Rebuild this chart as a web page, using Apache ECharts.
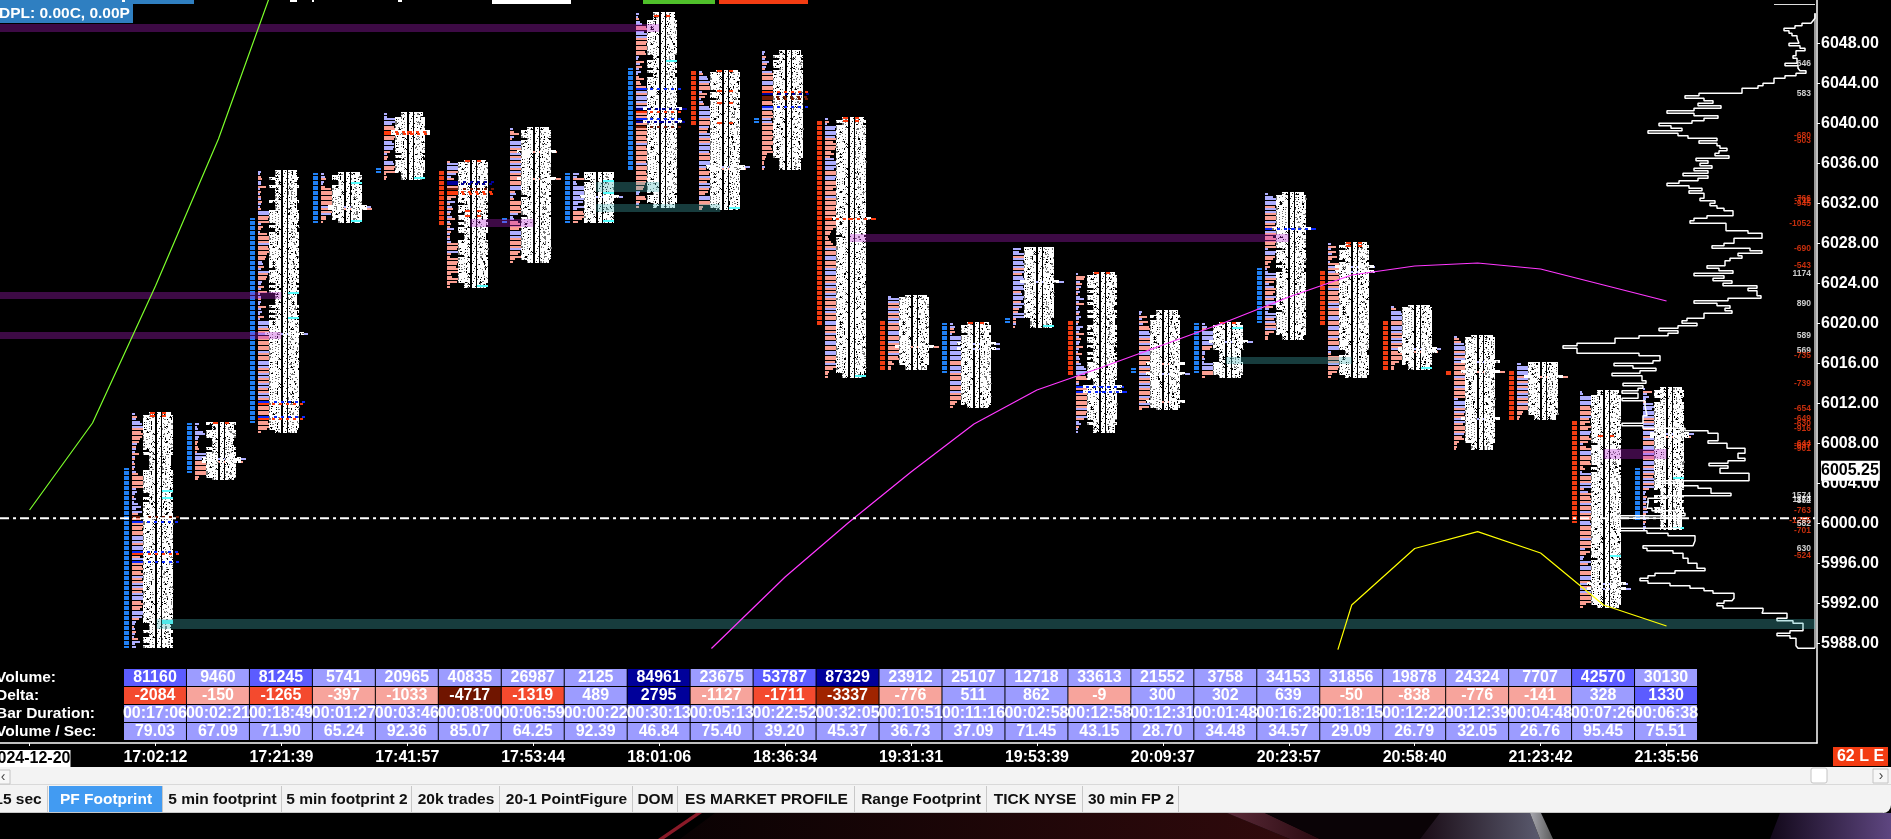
<!DOCTYPE html>
<html><head><meta charset="utf-8">
<style>html,body{margin:0;padding:0;background:#000;overflow:hidden}#c{width:1891px;height:839px}</style>
<script src="https://cdn.jsdelivr.net/npm/echarts@6/dist/echarts.min.js"></script>
</head><body><div id="c"></div>
<script>
const timeTicks = ['2024-12-20','17:02:12','17:21:39','17:41:57','17:53:44','18:01:06','18:36:34','19:31:31','19:53:39','20:09:37','20:23:57','20:58:40','21:23:42','21:35:56'];
const priceTicks = [5988,5992,5996,6000,6004,6008,6012,6016,6020,6024,6028,6032,6036,6040,6044,6048];
const lastPrice = 6005.25;
const rowNames = ['Volume:','Delta:','Bar Duration:','Volume / Sec:'];
const volumes = [81160,9460,81245,5741,20965,40835,26987,2125,84961,23675,53787,87329,23912,25107,12718,33613,21552,3758,34153,31856,19878,24324,7707,42570,30130];
const deltas = [-2084,-150,-1265,-397,-1033,-4717,-1319,489,2795,-1127,-1711,-3337,-776,511,862,-9,300,302,639,-50,-838,-776,-141,328,1330];
const durations = ['00:17:06','00:02:21','00:18:49','00:01:27','00:03:46','00:08:00','00:06:59','00:00:22','00:30:13','00:05:13','00:22:52','00:32:05','00:10:51','00:11:16','00:02:58','00:12:58','00:12:31','00:01:48','00:16:28','00:18:15','00:12:22','00:12:39','00:04:48','00:07:26','00:06:38'];
const volPerSec = ['79.03','67.09','71.90','65.24','92.36','85.07','64.25','92.39','46.84','75.40','39.20','45.37','36.73','37.09','71.45','43.15','28.70','34.48','34.57','29.09','26.79','32.05','26.76','95.45','75.51'];

const colHigh = [6011,6010,6035.25,6035,6041,6036.25,6039.5,6035,6051,6045.25,6047.25,6040.5,6022.75,6020,6027.5,6025,6021.25,6020,6033,6028,6021.75,6018.75,6016,6013.25,6013.5];
// price-range of the reversal blocks left of each bar: [high, low, +1 blue / -1 red]
const brickHigh = [6005.5,6010,6030.5,6035,6035.5,6035.25,6030.5,6035,6045.5,6045.25,6040.5,6040.25,6020.25,6020,6020.5,6020.25,6015.5,6020,6025.5,6025.25,6020.25,6015.25,6015.25,6010.25,6005.5];
const brickLow = [5987.5,6005,6010,6030,6035,6029.75,6030,6030,6035.25,6039.75,6040,6019.75,6015.25,6015,6020,6014.75,6015,6015,6020,6019.75,6015.25,6014.75,6010.25,6000,6000.25];
const brickDir = [1,1,1,1,1,-1,1,1,1,-1,1,-1,-1,1,1,-1,1,1,1,-1,-1,-1,-1,-1,1];

// level volume per bar, top to bottom (sign = delta side)
const lv0 = [3,-5,4,8,10,11,-11,-9,-11,-10,-8,-7,5,-4,4,3,-7,3,-3,2,-3,3,-2,4,-6,-11,-12,-13,-12,-11,4,5,3,-2,4,2,6,9,4,10,-6,-8,-9,14,-11,-12,-10,-13,-12,11,12,13,-12,11,13,12,-11,-8,12,14,-12,-10,-13,-9,-11,12,-10,-12,13,11,-12,-10,12,13,11,-9,-12,-10,-8,13,11,10,-7,4,3,-2,3,-4,3,2,-6,8,3,4];
const lv1 = [4,2,3,8,10,4,3,-3,-2,-3,-4,-2,14,18,51,-48,-15,-14,-16,-18,-15,-4,-3];
const lv2 = [3,2,-3,-4,3,3,-8,2,-3,2,-3,3,-4,3,2,-3,12,11,-12,-10,-11,3,-5,-3,2,-9,-11,-12,-11,12,-10,-12,-11,-9,-8,-7,4,5,-6,3,12,-10,-9,-8,4,3,-6,3,-9,2,3,-3,3,2,-8,3,4,2,-6,2,11,12,10,-12,-13,50,-14,-13,-15,-12,-13,-11,12,-14,-11,-13,11,12,13,-12,-11,11,13,-14,-12,11,12,-10,-11,13,12,-13,-11,14,-12,-13,-14,-12,-11,13,-10,-12,-13,-9,-3];
const lv3 = [3,4,-5,3,2,-4,-10,-12,-13,-11,-14,-12,-13,50,-51,-12,10,-5,-5,-2];
const lv4 = [3,3,11,11,8,-10,-12,-45,-40,-12,-10,8,10,10,9,-6,3,-4,-3,9,10,-11,-10,-12,-2,-3,-2];
const lv5 = [-3,11,12,11,-13,9,4,-7,14,13,-12,-11,-12,-12,-9,-4,8,-3,5,-6,4,-3,5,-8,3,-4,-3,7,-4,3,-3,3,4,-11,-12,-10,11,-4,-3,-12,-11,-10,-9,-11,-12,-4,-5,-11,-10,-3,-3];
const lv6 = [3,-4,-9,4,-2,13,12,13,-12,-47,12,-13,11,-12,12,14,-13,11,-12,-14,-51,-13,-11,11,12,-5,6,3,-4,-11,-12,-10,-13,-11,8,3,4,-8,-10,-11,-9,12,11,13,-12,-13,-11,-12,12,-10,-8,-11,-5,-3];
const lv7 = [6,4,-14,3,4,13,12,11,13,50,12,10,5,11,4,-10,-12,-14,-9,-5];
const lv8 = [3,2,-3,4,6,-10,-11,8,12,11,-12,-11,-10,-12,-11,-9,-10,3,2,-8,4,-6,3,5,2,-3,-8,-4,-5,-10,12,11,-12,14,13,12,-13,11,51,-14,-12,-15,12,49,-11,-10,-12,-11,-13,-10,-12,-11,12,-10,-11,-13,-12,-11,-12,-10,12,-13,-11,-10,-12,-11,-11,-10,-9,-8,-7,4,3,-9,-10,-4,3,-3];
const lv9 = [3,-4,8,9,11,-10,-12,-11,3,-8,-6,2,4,-5,10,12,13,11,14,-12,-11,-13,10,-9,-8,11,13,-12,-11,12,13,11,10,-13,-11,-12,12,14,51,-47,-12,-10,11,-13,-8,12,11,-10,-9,-6,12,13,-11,-14,-4,-3];
const lv10 = [3,2,-4,3,7,-5,4,-3,10,-12,-13,-12,11,12,-14,-12,-13,-12,-11,-13,-10,-12,-11,12,-10,-12,-11,9,10,-12,-13,-11,-10,-12,-11,-10,-12,-11,-9,-10,-12,-5,-4,-3,-2,-2,3,-2];
const lv11 = [3,-4,2,11,10,12,12,10,-13,-8,-11,-12,-10,-6,-9,-5,9,12,11,12,9,-12,-11,12,10,-12,-13,-11,-8,-12,-14,11,-12,-13,-11,-13,-10,-12,-11,-10,-51,-12,-13,-11,-8,-6,-5,-3,-4,-6,-8,-12,12,-13,-11,12,11,-14,-12,-11,12,14,13,-13,-12,-11,13,11,-13,-12,11,13,-12,-14,-11,-12,14,13,-13,-12,-11,11,12,-13,-11,-12,13,-10,-12,14,13,-11,-12,12,13,-14,-11,-10,12,-13,-8,-4,-3,-3];
const lv12 = [3,11,12,-13,-12,11,13,-12,-11,13,12,-13,-12,-14,11,12,-12,-13,13,-11,-51,-13,-12,11,-10,-12,-4,-6,-3,-3];
const lv13 = [3,5,-4,-5,2,13,14,12,50,13,50,11,14,13,12,-12,-13,11,12,13,-12,-14,-13,12,11,-13,-14,12,-11,-13,-12,-7,-5,-3];
const lv14 = [8,6,12,-11,11,10,12,13,-12,11,-9,10,12,51,11,10,12,-8,9,12,10,-8,11,9,-6,-5,12,11,-3,-3,3,-2];
const lv15 = [2,-9,-8,4,-6,5,-3,4,-2,4,8,3,-8,3,2,4,-3,5,3,-3,2,7,4,3,-8,3,-5,4,3,-7,3,2,-6,3,4,-3,5,8,10,12,9,-10,-12,-3,3,48,-12,51,-13,-11,-14,-12,-13,-11,12,-14,-10,11,-8,3,5,-3,2,2];
const lv16 = [3,2,-8,3,-9,4,-10,-11,10,12,11,-12,-13,11,-12,-11,12,13,-13,-12,-11,-43,12,-13,-11,51,12,-13,-11,12,13,-12,-11,-13,12,-10,-42,12,-10,-3];
const lv17 = [3,5,-4,11,14,13,12,51,11,-10,-8,3,3,-2,3,2,11,12,12,-13,-14,-3];
const lv18 = [3,8,11,11,12,-10,12,11,-12,-13,-11,12,-10,-12,51,12,-11,-8,-12,-11,-10,-13,3,11,10,-10,-8,-6,-3,-5,2,3,11,12,-12,-9,4,9,-12,-10,-8,12,-9,10,11,-8,4,3,12,11,-9,10,-11,-12,12,-9,-4,-3,-3];
const lv19 = [3,-8,3,-8,4,-9,-4,2,-13,47,-13,47,-12,-14,-11,-13,-12,-11,12,-13,-10,-12,-14,-11,13,11,-12,-13,-14,12,11,-13,-12,11,13,-14,-12,11,-10,-12,-13,12,11,3,-3,-12,-13,-11,12,-14,-10,-9,-4,-3];
const lv20 = [3,-5,10,12,13,11,-12,-13,11,12,14,-11,-13,11,12,-14,-13,50,-47,-12,-11,-13,-8,-4,-3,-3];
const lv21 = [3,-5,-7,10,11,12,-12,11,-13,12,46,-13,-12,-11,-51,-14,12,-13,-11,-12,13,-14,-12,-11,-13,4,11,12,13,-11,12,-10,-11,46,12,-9,-13,-11,-12,10,-8,-10,-5,-3,-3,-2];
const lv22 = [4,12,14,13,11,-51,12,-13,11,-14,13,-12,14,11,-13,-12,11,-13,-12,-6,-5,-3,-2];
const lv23 = [2,3,12,13,14,12,-10,-12,-13,-11,13,-9,-10,-5,-11,-8,12,10,-9,-11,-8,3,-6,-12,14,13,-11,-12,-10,-13,-3,-5,2,12,-13,-12,-11,13,12,-4,8,-12,-10,-13,-12,11,-14,-11,12,-13,-12,-11,10,13,-12,-14,-13,-12,-11,12,-13,-11,-12,5,-10,-6,4,3,12,-8,13,14,-11,-12,12,13,-10,48,-12,51,12,-13,-11,-12,-13,-6,-3];
const lv24 = [2,-9,4,6,3,-3,10,12,9,13,14,11,-13,-12,14,13,-14,12,51,-48,12,-13,-11,14,13,-12,14,-13,-11,15,13,-12,14,16,-11,-10,12,13,-14,11,-6,3,2,-4,3,6,-3,3,-4,5,-3,2,3,-3,2,3,2];
const barLevels = [lv0,lv1,lv2,lv3,lv4,lv5,lv6,lv7,lv8,lv9,lv10,lv11,lv12,lv13,lv14,lv15,lv16,lv17,lv18,lv19,lv20,lv21,lv22,lv23,lv24];

// [bar, level, tone]: rows of the footprint with a strong colour
const strongRows = [[0,41,'M'],[0,43,'B'],[0,55,'B'],[0,56,'R'],[0,59,'B'],[2,92,'B'],[2,93,'R'],[2,98,'B'],[2,99,'R'],[4,7,'R'],[4,8,'R'],[5,8,'N'],[5,9,'N'],[5,11,'M'],[5,12,'R'],[5,13,'R'],[8,30,'B'],[8,38,'N'],[8,39,'R'],[8,42,'B'],[8,43,'N'],[8,45,'M'],[10,16,'R'],[10,17,'N'],[10,18,'M'],[10,19,'M'],[10,22,'B'],[11,40,'R'],[15,45,'B'],[15,47,'B'],[18,14,'B']];
const cyanRows = [[0,31],[0,34],[0,83],[0,84],[2,49],[2,59],[3,4],[3,19],[4,26],[5,50],[7,3],[7,8],[7,19],[8,19],[8,79],[9,55],[11,103],[14,31],[17,2],[20,25],[23,66],[24,36],[24,56]];
const redRows = [[0,0],[0,1],[1,0],[5,0],[8,1],[9,0],[9,8],[9,13],[9,21],[11,0],[11,1],[13,0],[15,0],[17,0],[19,0],[19,1],[23,18],[5,20],[5,22]];

// value profile on the right: [price, volume] from top to bottom
const profile = [[6051,0],[6050.5,2],[6050.25,4],[6050,13],[6049.75,20],[6049.5,31],[6049.25,26],[6049,23],[6048.75,18],[6048.5,16],[6048,26],[6047.75,15],[6047.5,10],[6047.25,19],[6046.75,22],[6046.5,18],[6046,30],[6045.75,17],[6045.5,15],[6045.25,9],[6045,19],[6044.75,30],[6044.5,41],[6044,52],[6043.75,57],[6043.5,73],[6043,116],[6042.75,130],[6042.5,111],[6042.25,102],[6042,117],[6041.75,94],[6041.5,121],[6041.25,148],[6041,121],[6040.75,97],[6040.5,111],[6040.25,123],[6040,156],[6039.75,144],[6039.5,133],[6039.25,167],[6039,137],[6038.75,127],[6038.5,98],[6038.25,116],[6038,98],[6037.75,95],[6037.5,88],[6037.25,96],[6037,100],[6036.75,86],[6036.5,119],[6036.25,107],[6036,115],[6035.75,103],[6035.5,121],[6035.25,107],[6035,132],[6034.75,107],[6034.5,117],[6034.25,136],[6034,148],[6033.75,126],[6033.5,113],[6033.25,126],[6033,111],[6032.5,115],[6032.25,100],[6032,105],[6031.75,98],[6031.5,91],[6031.25,82],[6030.75,108],[6030.5,121],[6030.25,125],[6030,89],[6029.25,67],[6029,53],[6028.5,81],[6028,91],[6027.75,103],[6027.5,65],[6027.25,53],[6027,77],[6026.75,73],[6026.5,85],[6026.25,90],[6025.75,108],[6025.5,96],[6025.25,82],[6025,121],[6024.75,91],[6024.5,102],[6024.25,83],[6024,92],[6023.75,58],[6023.5,67],[6023.25,58],[6022.75,54],[6022.5,87],[6022.25,121],[6022,98],[6021.75,85],[6021.5,90],[6021.25,83],[6021,111],[6020.5,128],[6020.25,133],[6020,118],[6019.75,137],[6019.5,156],[6019.25,137],[6019,147],[6018.75,176],[6018.5,200],[6018,238],[6017.75,252],[6017.5,238],[6017,176],[6016.75,155],[6016.25,162],[6016,201],[6015.75,182],[6015.5,159],[6015.25,175],[6015,203],[6014.75,173],[6014.25,169],[6014,192],[6013.75,172],[6013.5,177],[6013.25,193],[6013,177],[6012.5,193],[6012.25,170],[6011.75,168],[6010.75,172],[6010,193],[6009.75,172],[6009.5,130],[6009.25,107],[6009,97],[6008.25,107],[6008,88],[6007.5,70],[6007,77],[6006.5,70],[6006.25,87],[6006,106],[6005.75,87],[6005.5,95],[6005,66],[6004.25,158],[6004,135],[6003.75,117],[6003.5,104],[6003,84],[6002.75,148],[6002.5,167],[6002,168],[6001.5,163],[6001.25,135],[6001,130],[6000.75,197],[6000.5,135],[5999.5,197],[5999.25,168],[5999,147],[5998.75,120],[5998.25,122],[5997.75,172],[5997.5,168],[5997.25,142],[5997,132],[5996.5,127],[5996,118],[5995.5,110],[5995.25,140],[5995,160],[5994.75,167],[5994.5,175],[5994.25,167],[5994,145],[5993.75,125],[5993.5,111],[5993.25,102],[5993,81],[5992.5,83],[5992.25,91],[5992,98],[5991.75,92],[5991.5,52],[5991.25,53],[5991,28],[5990.5,38],[5990.25,22],[5990,12],[5989.25,25],[5989,38],[5988.75,25],[5988.5,19],[5987.75,17],[5987.5,0]];
const profileLabels = [[6046,'646',1],[6043,'583',1],[6038.75,'-680',0],[6038.25,'-503',0],[6032.5,'-766',0],[6032.25,'-711',0],[6032,'-945',0],[6030,'-1052',0],[6027.5,'-690',0],[6025.75,'-543',0],[6025,'1174',1],[6022,'890',1],[6018.75,'589',1],[6017.25,'569',1],[6016.75,'-735',0],[6014,'-739',0],[6011.5,'-654',0],[6010.5,'-649',0],[6010,'-630',0],[6009.5,'-916',0],[6008,'-644',0],[6007.75,'-637',0],[6007.5,'-901',0],[6002.75,'1574',1],[6002.4,'1174',1],[6002.25,'852',1],[6001.25,'-763',0],[6000.25,'-1255',0],[6000,'582',1],[5999.25,'-701',0],[5997.5,'630',1],[5996.75,'-524',0]];

// moving lines: [bar position, price]
const greenLine = [[-2,6001.33],[-1,6010.03],[0,6023.73],[1,6038.43],[2,6055.93]];
const magentaLine = [[8.83,5987.48],[10,5994.63],[11,6000.03],[12,6005.13],[13,6009.93],[14,6013.33],[15,6015.53],[16,6017.83],[17,6020.13],[18,6022.63],[19,6024.83],[20,6025.73],[21,6026.03],[22,6025.43],[23,6023.83],[24,6022.23]];
const yellowLine = [[18.78,5987.37],[19,5991.83],[20,5997.48],[21,5999.17],[22,5997.03],[23,5991.83],[24,5989.73]];
const roundLevel = 6000.5;

// [from bar, to bar, high, low]
const purpleZones = [[-2.47,8,6049.93,6049.13],[-2.47,2,6023.13,6022.43],[-2.47,2,6019.13,6018.43],[5,6,6030.43,6029.63],[11.03,18,6028.93,6028.13],[23,24,6007.43,6006.43]];
const tealZones = [[0.02,26.36,5990.43,5989.43],[7,8,6034.13,6033.13],[7,8.97,6031.93,6031.13],[17,19,6016.63,6015.93]];

const tabs = [['15 sec',-12,48],['PF Footprint',49,163],['5 min footprint',163,282],['5 min footprint 2',282,412],['20k trades',412,500],['20-1 PointFigure',500,633],['DOM',633,678],['ES MARKET PROFILE',678,855],['Range Footprint',855,987],['TICK NYSE',987,1083],['30 min FP 2',1083,1179]];

const FONT = '"Liberation Sans", Arial, sans-serif';
const X_MIN = -2.4695, X_MAX = 26.39;
const SALMON = '#fb9f92', LAV = '#aeaeff';
const TONES = {B:'#0a28ff',N:'#00009a',R:'#ff3a0c',M:'#701a05'};

const footRows = [];
barLevels.forEach((lv,c)=>lv.forEach((v,i)=>footRows.push([c,colHigh[c]-i*0.25,v,i])));
const brickRows = [];
brickHigh.forEach((h,c)=>{for(let p=h;p>brickLow[c]+0.01;p-=0.25)brickRows.push([c,p,brickDir[c]]);});
const toneMap = {}; strongRows.forEach(r=>toneMap[r[0]+'_'+r[1]]=r[2]);
const cyanMap = {}; cyanRows.forEach(r=>cyanMap[r[0]+'_'+r[1]]=1);
const redMap = {}; redRows.forEach(r=>redMap[r[0]+'_'+r[1]]=1);

function renderBar(params,api){
  const c=api.value(0),p=api.value(1),v=api.value(2),L=api.value(3);
  const pt=api.coord([c,p]);
  const s=pt[0]-api.size([1,0])[0]/2, y=Math.round(pt[1]);
  const tone=toneMap[c+'_'+L];
  return {type:'rect',shape:{x:Math.round(s+8),y:y,width:Math.abs(v),height:2},style:{fill:tone?TONES[tone]:(v<0?SALMON:LAV)}};
}
// cell extents of one price row, from its volume: [leftStart,leftEnd,centreStart,centreEnd,rightStart,rightEnd] after the bar's left edge
function cellExtent(a){
  const big=a>=30, small=a<4;
  return [big?15:(small?25:19),31,33,37,38,big?54:(small?47:49)];
}
function renderCells(params,api){
  const c=api.value(0),p=api.value(1),a=Math.abs(api.value(2));
  const pt=api.coord([c,p]);
  const s=Math.round(pt[0]-api.size([1,0])[0]/2), y=Math.round(pt[1]);
  const e=cellExtent(a), f={fill:'#ffffff'};
  return {type:'group',children:[
    {type:'rect',shape:{x:s+e[0],y:y-1,width:e[1]-e[0],height:3},style:f},
    {type:'rect',shape:{x:s+e[2],y:y-1,width:e[3]-e[2],height:3},style:f},
    {type:'rect',shape:{x:s+e[4],y:y-1,width:e[5]-e[4],height:3},style:f}
  ]};
}
// the dark flecks inside a cell are the gaps of the overlapping small figures
function renderFlecks(params,api){
  const c=api.value(0),p=api.value(1),v=api.value(2),L=api.value(3);
  const a=Math.abs(v);
  const pt=api.coord([c,p]);
  const s=Math.round(pt[0]-api.size([1,0])[0]/2), y=Math.round(pt[1]);
  const e=cellExtent(a), tone=toneMap[c+'_'+L], rd=redMap[c+'_'+L], cy=cyanMap[c+'_'+L];
  const kids=[];
  const cell=(x0,x1,seed,count)=>{
    const w=x1-x0;
    for(let k=0;k<count;k++){
      const h=seed*(k*2+3)+k*7;
      const x=x0+h%w;
      const dark=h%3!==0;
      kids.push({type:'rect',shape:{x:x,y:y+(h%2),width:1+(h%5===0?1:0),height:1+(h%4===0?1:0)},style:{fill:dark?'#000':'#777'}});
    }
  };
  cell(e[0],e[1],a*37+L*11+c*5,4);
  cell(e[4],e[5],a*53+L*17+c*3,4);
  const hit=(L*7+c)%4;
  kids.forEach(k=>{k.shape.x+=s;});
  kids.push({type:'rect',shape:{x:s+e[2]+hit,y:y,width:1,height:1},style:{fill:'#222'}});
  if(tone){
    for(let k=0;k<5;k++)kids.push({type:'rect',shape:{x:s+e[0]+3+k*7+(L%3),y:y,width:3,height:2},style:{fill:TONES[tone]}});
  }
  if(rd){
    kids.push({type:'rect',shape:{x:s+26,y:y-1,width:5,height:2},style:{fill:'#ff3a0c'}},{type:'rect',shape:{x:s+38,y:y-1,width:4,height:2},style:{fill:'#ff3a0c'}});
  }
  if(cy){
    kids.push({type:'rect',shape:{x:s+38,y:y-1,width:11,height:2},style:{fill:'#55ffff'}});
  }
  return {type:'group',children:kids};
}
function renderBrick(params,api){
  const pt=api.coord([api.value(0),api.value(1)]);
  const cw=api.size([1,0])[0];
  return {type:'rect',shape:{x:Math.round(pt[0]-cw/2),y:Math.round(pt[1]),width:5,height:2},style:{fill:api.value(2)>0?'#2080f5':'#f23c12'}};
}
function renderZone(fill){return function(params,api){
  const a=api.coord([api.value(0),api.value(2)]),b=api.coord([api.value(1),api.value(3)]);
  return {type:'rect',shape:{x:a[0],y:a[1],width:b[0]-a[0],height:b[1]-a[1]},style:{fill:fill}};
};}
function volColor(v){return v>=84000?'#00009a':(v>=42000?'#5c5cff':'#9c9cff');}
function deltaColor(d){
  if(d>=2000)return '#00009a'; if(d>=1000)return '#5c5cff'; if(d>=0)return '#9c9cff';
  if(d<=-4000)return '#701500'; if(d<=-3000)return '#a02400'; if(d<=-1200)return '#f44a2e'; return '#f7a49c';
}
const tableRows=[];
for(let r=0;r<4;r++)for(let c=0;c<volumes.length;c++)tableRows.push([c,r]);
function renderCell(params,api){
  const c=api.value(0),r=api.value(1);
  const pt=api.coord([c,r]);
  const cw=api.size([1,0])[0];
  const fill=r===0?volColor(volumes[c]):(r===1?deltaColor(deltas[c]):'#9c9cff');
  const txt=r===0?String(volumes[c]):(r===1?String(deltas[c]):(r===2?durations[c]:volPerSec[c]));
  return {type:'group',children:[
    {type:'rect',shape:{x:pt[0]-cw/2,y:pt[1]-9,width:cw-1,height:17},style:{fill:fill}},
    {type:'text',z2:5,style:{text:txt,x:pt[0]-0.5,y:pt[1]-0.5,fill:'#fff',align:'center',verticalAlign:'middle',font:'bold 16px '+FONT}}
  ]};
}
const profilePts=[];
profile.forEach((e,i)=>{
  const next=i<profile.length-1?profile[i+1][0]:e[0];
  profilePts.push([e[1],e[0]],[e[1],next]);
});

const gfx=[];
function R(x,y,w,h,fill,extra){gfx.push(Object.assign({type:'rect',shape:{x:x,y:y,width:w,height:h},style:{fill:fill},silent:true,z:50},extra||{}));}
function T(x,y,t,fill,font,align){gfx.push({type:'text',x:x,y:y,style:{text:t,fill:fill,font:font,align:align||'center',verticalAlign:'middle'},silent:true,z:52});}
// clipped toolbar at top
R(0,0,194,4,'#2f7fc1');R(492,0,79,4,'#ffffff');R(643,0,72,4,'#4fbf2a');R(719,0,89,4,'#f33c12');
R(122,0,3,2,'#fff');R(290,0,7,2,'#fff');R(312,0,2,2,'#fff');R(398,0,4,2,'#fff');
R(0,4,133,19,'#2f7fc1');T(-1,14,'DPL: 0.00C, 0.00P','#fff','bold 15.5px '+FONT,'left');
R(1774,4,41,1,'#ddd');
// window chrome
R(0,767,1891,46,'#f3f3f3',{shape:{x:0,y:767,width:1891,height:46,r:[0,0,8,0]}});
R(0,784,1891,1,'#d9d9d9');
R(-3,770,13,14,'#f7f7f7',{style:{fill:'#f7f7f7',stroke:'#c4c4c4'}});
T(3,777,'‹','#444','14px '+FONT);
R(1811,768,16,15,'#fff',{style:{fill:'#fff',stroke:'#c4c4c4'},shape:{x:1811,y:768,width:16,height:15,r:2}});
R(1873,769,15,14,'#f7f7f7',{style:{fill:'#f7f7f7',stroke:'#c4c4c4'}});
T(1881,776,'›','#444','14px '+FONT);
tabs.forEach((t,i)=>{
  const on=i===1;
  R(t[1],786,t[2]-t[1]-1,26,on?'#429bf2':'#f3f3f3');
  R(t[2]-1,786,1,26,'#c8c8c8');
  T((Math.max(t[1],-12)+t[2])/2,799.5,t[0],on?'#fff':'#111','bold 15.5px '+FONT);
});
R(0,812,1891,1,'#c8c8c8',{shape:{x:0,y:812,width:1883,height:1}});
// red status box
R(1833,747,55,19,'#f33c12');T(1860.5,757,'62 L E','#fff','bold 16px '+FONT);
// wallpaper
function P(pts,fill){gfx.push({type:'polygon',shape:{points:pts},style:{fill:fill},silent:true,z:48});}
const grad=(a,b,x2)=>({type:'linear',x:0,y:0,x2:x2||1,y2:0,colorStops:[{offset:0,color:a},{offset:1,color:b}]});
P([[715,813],[1227,813],[1290,839],[680,839]],grad('#0a0203','#300a0c'));
P([[696,813],[702,813],[664,839],[658,839]],'#8a1a28');
P([[1227,813],[1265,813],[1320,839],[1290,839]],grad('#5a2a38','#2a0a10'));
P([[1265,813],[1440,813],[1420,839],[1320,839]],'#0a0306');
P([[1440,813],[1530,813],[1540,839],[1420,839]],grad('#1a0c16','#5a5a6e'));
P([[1530,813],[1541,813],[1553,839],[1540,839]],grad('#a8a8b0','#5a5a5a'));
P([[1780,813],[1891,813],[1891,839],[1770,839]],grad('#12081a','#5e4680'));

const chart=echarts.init(document.getElementById('c'),null,{renderer:'canvas'});
chart.setOption({
  animation:false,backgroundColor:'#000',
  grid:[{left:0,top:0,width:1817,height:743,outerBoundsMode:'none'},{left:0,top:669,width:1817,height:72,outerBoundsMode:'none'}],
  xAxis:[
    {type:'value',gridIndex:0,min:X_MIN,max:X_MAX,splitLine:{show:false},
     axisLine:{onZero:false,lineStyle:{color:'#fff',width:1.5}},
     axisTick:{length:3,lineStyle:{color:'#fff'},customValues:[-2,0,2,4,6,8,10,12,14,16,18,20,22,24]},
     axisLabel:{customValues:[-2,0,2,4,6,8,10,12,14,16,18,20,22,24],margin:7,color:'#fff',fontFamily:'Liberation Sans',fontWeight:'bold',fontSize:16,
       formatter:v=>{const t=timeTicks[(v+2)/2];return v===-2?'{d|'+t+'}':t;},
       rich:{d:{color:'#000',backgroundColor:'#fff',fontFamily:'Liberation Sans',fontWeight:'bold',fontSize:16,padding:[1,0,1,0]}}}},
    {type:'value',gridIndex:0,show:false,inverse:true,min:-2,max:1815,splitLine:{show:false}},
    {type:'value',gridIndex:1,show:false,min:X_MIN,max:X_MAX,splitLine:{show:false}}
  ],
  yAxis:[
    {type:'value',gridIndex:0,position:'right',min:5978.03,max:6052.33,scale:true,splitLine:{show:false},
     axisLine:{show:true,onZero:false,lineStyle:{color:'#fff',width:1.5}},
     axisTick:{show:true,length:3,lineStyle:{color:'#fff'},customValues:priceTicks},
     axisLabel:{customValues:priceTicks.concat([lastPrice]),margin:4,color:'#fff',fontFamily:'Liberation Sans',fontWeight:'bold',fontSize:16,
       formatter:v=>v===lastPrice?'{l|'+v.toFixed(2)+'}':v.toFixed(2),
       rich:{l:{color:'#000',backgroundColor:'#fff',fontFamily:'Liberation Sans',fontWeight:'bold',fontSize:16,padding:[2,1,2,0]}}}},
    {type:'category',gridIndex:1,inverse:true,data:rowNames,axisLine:{show:false},axisTick:{show:false},
     axisLabel:{inside:true,interval:0,margin:-4,align:'left',color:'#fff',fontFamily:'Liberation Sans',fontWeight:'bold',fontSize:15.5}}
  ],
  series:[
    {type:'custom',name:'bricks',xAxisIndex:0,yAxisIndex:0,data:brickRows,renderItem:renderBrick,silent:true,z:2,encode:{x:0,y:1}},
    {type:'custom',name:'levelBars',xAxisIndex:0,yAxisIndex:0,data:footRows,renderItem:renderBar,silent:true,z:3,encode:{x:0,y:1}},
    {type:'custom',name:'levelCells',xAxisIndex:0,yAxisIndex:0,data:footRows,renderItem:renderCells,silent:true,z:3,encode:{x:0,y:1}},
    {type:'custom',name:'levelFlecks',xAxisIndex:0,yAxisIndex:0,data:footRows,renderItem:renderFlecks,silent:true,z:3,encode:{x:0,y:1}},
    {type:'line',name:'profile',xAxisIndex:1,yAxisIndex:0,data:profilePts,showSymbol:false,symbol:'none',lineStyle:{color:'#fff',width:1.5},silent:true,z:4},
    {type:'line',name:'profileBase',xAxisIndex:1,yAxisIndex:0,data:[[0,6051],[0,5987.5]],showSymbol:false,symbol:'none',lineStyle:{color:'#fff',width:1.2},silent:true,z:4},
    {type:'custom',name:'purple',xAxisIndex:0,yAxisIndex:0,data:purpleZones,renderItem:renderZone('rgba(185,30,209,0.33)'),silent:true,z:5,encode:{x:[0,1],y:[2,3]},clip:true},
    {type:'custom',name:'teal',xAxisIndex:0,yAxisIndex:0,data:tealZones,renderItem:renderZone('rgba(70,182,185,0.33)'),silent:true,z:5,encode:{x:[0,1],y:[2,3]},clip:true},
    {type:'line',name:'green',xAxisIndex:0,yAxisIndex:0,data:greenLine,showSymbol:false,symbol:'none',clip:true,lineStyle:{color:'#7cff2a',width:1.2},silent:true,z:6},
    {type:'line',name:'magenta',xAxisIndex:0,yAxisIndex:0,data:magentaLine,showSymbol:false,symbol:'none',lineStyle:{color:'#ff38ff',width:1.2},silent:true,z:6},
    {type:'line',name:'yellow',xAxisIndex:0,yAxisIndex:0,data:yellowLine,showSymbol:false,symbol:'none',lineStyle:{color:'#ffff00',width:1.2},silent:true,z:6},
    {type:'line',name:'round',xAxisIndex:0,yAxisIndex:0,data:[[X_MIN,roundLevel],[26.36,roundLevel]],showSymbol:false,symbol:'none',lineStyle:{color:'#fff',width:2,type:[9,4,3,4]},silent:true,z:7},
    {type:'scatter',name:'profileLabels',xAxisIndex:1,yAxisIndex:0,symbolSize:0,silent:true,z:8,
      data:profileLabels.map(e=>({value:[4,e[0]],name:e[1],label:{color:e[2]?'#ffffff':'#f53a10'}})),
      label:{show:true,position:'left',distance:0,formatter:'{b}',fontFamily:'Liberation Sans',fontWeight:'bold',fontSize:8.5}},
    {type:'custom',name:'table',xAxisIndex:2,yAxisIndex:1,data:tableRows,renderItem:renderCell,silent:true,z:10,encode:{x:0,y:1}}
  ],
  graphic:gfx
});
</script></body></html>
